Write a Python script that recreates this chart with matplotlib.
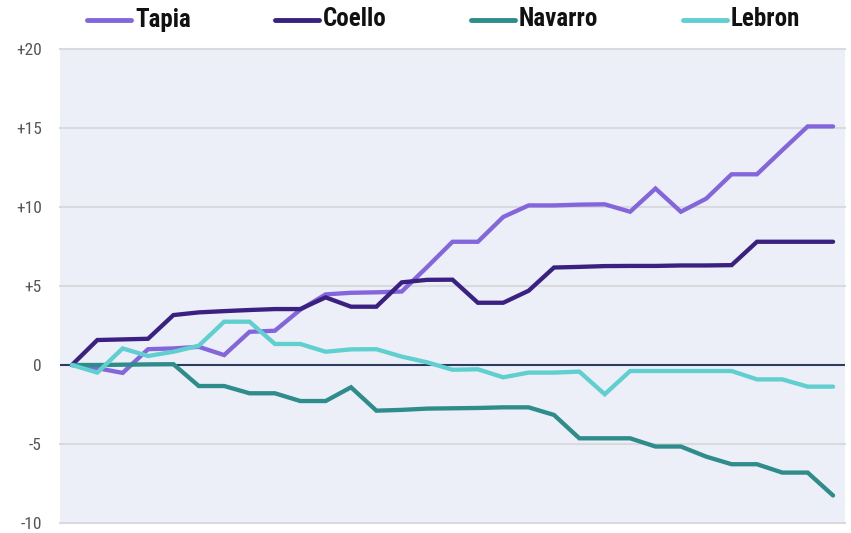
import matplotlib
matplotlib.use("Agg")
import matplotlib.pyplot as plt
from matplotlib.lines import Line2D
from matplotlib import font_manager
import numpy as np

names = ["Tapia", "Coello", "Navarro", "Lebron"]
colors = ["#8366DC", "#3A2181", "#2E8C8A", "#5FCFD0"]

tapia = [0, -0.2, -0.5, 1.0, 1.05, 1.15, 0.63, 2.1, 2.17, 3.5, 4.47, 4.57, 4.6, 4.65, 6.2,
         7.8, 7.8, 9.37, 10.1, 10.1, 10.15, 10.17, 9.7, 11.17, 9.7, 10.53, 12.07, 12.07, 13.6, 15.1, 15.1]
coello = [0, 1.58, 1.62, 1.66, 3.16, 3.33, 3.41, 3.48, 3.54, 3.54, 4.28, 3.69, 3.69, 5.23, 5.39,
          5.4, 3.94, 3.94, 4.7, 6.17, 6.21, 6.26, 6.27, 6.27, 6.3, 6.3, 6.32, 7.8, 7.8, 7.8, 7.8]
navarro = [0, 0, 0.02, 0.04, 0.05, -1.33, -1.33, -1.79, -1.79, -2.28, -2.28, -1.41, -2.89, -2.84, -2.76,
           -2.74, -2.72, -2.68, -2.68, -3.16, -4.64, -4.64, -4.64, -5.16, -5.16, -5.8, -6.28, -6.28, -6.81, -6.81, -8.26]
lebron = [0, -0.48, 1.05, 0.57, 0.84, 1.22, 2.74, 2.74, 1.33, 1.33, 0.84, 0.99, 1.0, 0.53, 0.17,
          -0.3, -0.27, -0.78, -0.48, -0.48, -0.42, -1.85, -0.38, -0.38, -0.38, -0.38, -0.38, -0.91, -0.91, -1.37, -1.37]
series = [tapia, coello, navarro, lebron]

yticks = [-10, -5, 0, 5, 10, 15, 20]
ytick_labels = ["-10", "-5", "0", "+5", "+10", "+15", "+20"]

installed = {f.name for f in font_manager.fontManager.ttflist}
condensed = [f for f in ["Roboto Condensed", "Liberation Sans Narrow", "DejaVu Sans Condensed",
                         "Open Sans Condensed"] if f in installed]
FONT = condensed + ["Roboto", "DejaVu Sans"]
is_condensed = bool(condensed)
leg_size = 18 if is_condensed else 16
tick_size = 12.5 if is_condensed else 12

W, H = 851, 533
fig = plt.figure(figsize=(W / 100, H / 100), dpi=100)
ax = fig.add_axes([60 / W, 10 / H, 785 / W, 474 / H])
ax.set_facecolor("#ECEFF8")

n = len(tapia)
x = np.arange(n)
for s, c in zip(series, colors):
    ax.plot(x, s, color=c, lw=3.1, solid_capstyle="round", solid_joinstyle="miter", zorder=3)

ax.set_xlim(-0.47, n - 1 + 0.47)
ax.set_ylim(-10, 20)
ax.set_xticks([])
ax.set_yticks(yticks)
ax.set_yticklabels(ytick_labels, fontfamily=FONT, fontsize=tick_size, color="#555555")
ax.tick_params(axis="y", length=0, pad=13)
for sp in ax.spines.values():
    sp.set_visible(False)
for yv in yticks:
    if yv == 0:
        ax.axhline(0, color="#2D3D62", lw=1.5, zorder=2)
    else:
        ax.axhline(yv, color="#DADADE", lw=1.5, zorder=1, clip_on=False)

# legend
line_x = [85, 273, 469, 681]
ly = 1 - 19.5 / H
for name, c, lx in zip(names, colors, line_x):
    fig.add_artist(Line2D([(lx + 1.5) / W, (lx + 45.5) / W], [ly, ly], color=c, lw=3.5,
                          solid_capstyle="round", transform=fig.transFigure))
    fig.text((lx + 50) / W, ly, name, fontfamily=FONT, fontweight="bold", fontsize=leg_size,
             color="#111111", va="center", ha="left")

fig.savefig("out.png", dpi=100)
